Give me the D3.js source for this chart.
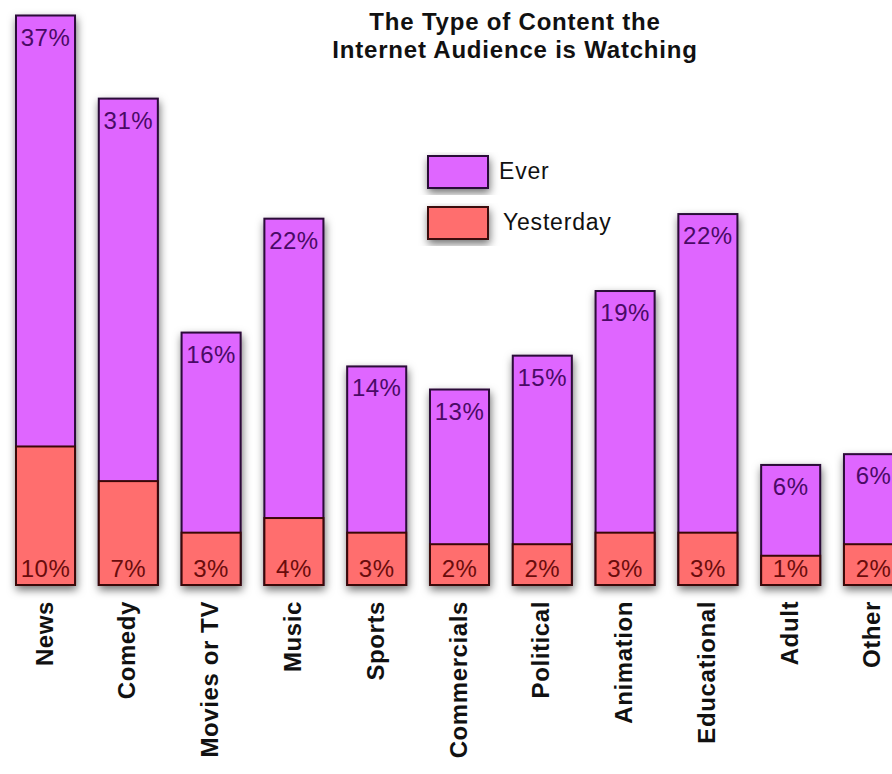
<!doctype html>
<html lang="en">
<head>
  <meta charset="utf-8">
  <title>Internet Audience Content</title>
  <script src="https://d3js.org/d3.v7.min.js"></script>
  <style>
    body { margin: 0; background: #fff; }
    svg text { font-family: 'Liberation Sans', Arial, Helvetica, sans-serif; }
  </style>
</head>
<body>
<div class="chart-container"></div>
<script>
  // categories, left to right
  const categories = ['News', 'Comedy', 'Movies or TV', 'Music', 'Sports', 'Commercials',
    'Political', 'Animation', 'Educational', 'Adult', 'Other'];

  // percentages printed on the bars
  const everLabels = [37, 31, 16, 22, 14, 13, 15, 19, 22, 6, 6];
  const yesterdayLabels = [10, 7, 3, 4, 3, 2, 2, 3, 3, 1, 2];

  // bar heights as drawn in the original (they don't quite follow the printed numbers)
  const everBar = [37, 31.6, 16.4, 23.8, 14.2, 12.7, 14.9, 19.1, 24.1, 7.8, 8.5];
  const yesterdayBar = [9.0, 6.75, 3.4, 4.35, 3.4, 2.65, 2.65, 3.4, 3.4, 1.9, 2.65];

  const titleLines = ['The Type of Content the', 'Internet Audience is Watching'];
  const seriesNames = ['Ever', 'Yesterday'];

  const width = 892;
  const height = 774;
  const colours = {
    Ever: { fill: '#df66ff', stroke: '#2a0838', text: '#4a0a66' },
    Yesterday: { fill: '#ff6e6e', stroke: '#3a0808', text: '#6a0c0c' }
  };

  const svg = d3.select('.chart-container').append('svg')
    .attr('width', width)
    .attr('height', height);

  const defs = svg.append('defs');
  defs.append('filter')
    .attr('id', 'shadow')
    .attr('x', '-30%').attr('y', '-10%')
    .attr('width', '160%').attr('height', '130%')
    .append('feDropShadow')
    .attr('dx', 1).attr('dy', 4)
    .attr('stdDeviation', 4)
    .attr('flood-color', '#000')
    .attr('flood-opacity', 0.55);

  const x = d3.scaleBand()
    .domain(categories)
    .range([16, 903])
    .paddingInner(0.287)
    .paddingOuter(0);

  const y = d3.scaleLinear()
    .domain([0, 37])
    .range([585, 15.5]);

  const rows = categories.map((c, i) => ({
    name: c,
    ever: everBar[i],
    yesterday: yesterdayBar[i],
    everLabel: everLabels[i],
    yesterdayLabel: yesterdayLabels[i]
  }));

  // title
  svg.append('g')
    .selectAll('text')
    .data(titleLines)
    .enter()
    .append('text')
    .attr('x', 515)
    .attr('y', (d, i) => 30 + i * 28)
    .attr('text-anchor', 'middle')
    .style('font-size', '24px')
    .style('font-weight', 'bold')
    .style('letter-spacing', '0.8px')
    .style('fill', '#111')
    .text(d => d);

  // legend
  const legend = svg.append('g')
    .selectAll('g')
    .data(seriesNames)
    .enter()
    .append('g')
    .attr('transform', (d, i) => `translate(428, ${156 + i * 51})`);

  legend.append('rect')
    .attr('width', 60)
    .attr('height', 32)
    .attr('filter', 'url(#shadow)')
    .style('fill', d => colours[d].fill)
    .style('stroke', d => colours[d].stroke)
    .style('stroke-width', 2);

  legend.append('text')
    .attr('x', (d, i) => 71 + i * 4)
    .attr('y', 23)
    .style('font-size', '23px')
    .style('letter-spacing', '0.8px')
    .style('fill', '#111')
    .text(d => d);

  const bars = svg.append('g')
    .selectAll('g.bar')
    .data(rows)
    .enter()
    .append('g')
    .attr('class', 'bar');

  bars.append('rect')
    .attr('class', 'ever')
    .attr('x', d => x(d.name))
    .attr('y', d => y(d.ever))
    .attr('width', x.bandwidth())
    .attr('height', d => y(0) - y(d.ever))
    .attr('filter', 'url(#shadow)')
    .style('fill', colours.Ever.fill)
    .style('stroke', colours.Ever.stroke)
    .style('stroke-width', 2);

  bars.append('rect')
    .attr('class', 'yesterday')
    .attr('x', d => x(d.name))
    .attr('y', d => y(d.yesterday))
    .attr('width', x.bandwidth())
    .attr('height', d => y(0) - y(d.yesterday))
    .style('fill', colours.Yesterday.fill)
    .style('stroke', colours.Yesterday.stroke)
    .style('stroke-width', 2);

  bars.append('text')
    .attr('x', d => x(d.name) + x.bandwidth() / 2)
    .attr('y', d => y(d.ever) + 30)
    .attr('text-anchor', 'middle')
    .style('font-size', '24px')
    .style('letter-spacing', '0.5px')
    .style('fill', colours.Ever.text)
    .text(d => d.everLabel + '%');

  bars.append('text')
    .attr('x', d => x(d.name) + x.bandwidth() / 2)
    .attr('y', y(0) - 8)
    .attr('text-anchor', 'middle')
    .style('font-size', '24px')
    .style('letter-spacing', '0.5px')
    .style('fill', colours.Yesterday.text)
    .text(d => d.yesterdayLabel + '%');

  // rotated category names under the bars
  svg.append('g')
    .selectAll('text')
    .data(categories)
    .enter()
    .append('text')
    .attr('transform', d => `translate(${x(d) + x.bandwidth() / 2 + 7}, 601) rotate(-90)`)
    .attr('text-anchor', 'end')
    .style('font-size', '24px')
    .style('font-weight', 'bold')
    .style('letter-spacing', '0.6px')
    .style('fill', '#111')
    .text(d => d);
</script>
</body>
</html>
